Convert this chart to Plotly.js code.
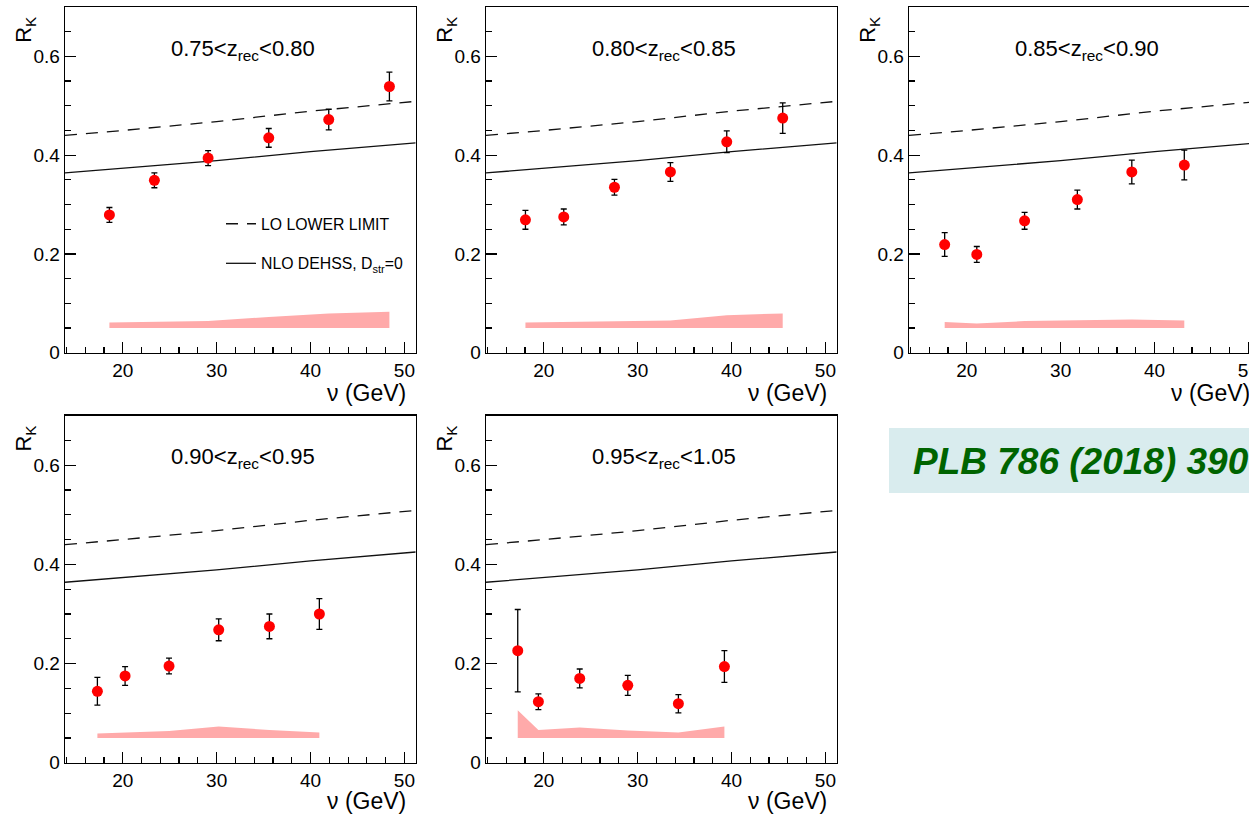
<!DOCTYPE html>
<html><head><meta charset="utf-8">
<script src="https://cdn.plot.ly/plotly-3.0.1.min.js"></script>
<style>html,body{margin:0;padding:0;overflow:hidden;background:#fff;} #chart{width:1262px;height:814px;}</style>
</head><body><div id="chart"></div>
<script>
// ---------------- data ----------------
const binLabels = ['0.75&lt;z<sub>rec</sub>&lt;0.80', '0.80&lt;z<sub>rec</sub>&lt;0.85',
  '0.85&lt;z<sub>rec</sub>&lt;0.90', '0.90&lt;z<sub>rec</sub>&lt;0.95', '0.95&lt;z<sub>rec</sub>&lt;1.05'];

const nuBin1 = [18.58, 23.37, 29.09, 35.55, 41.94, 48.40];
const rkBin1 = [0.279, 0.349, 0.394, 0.435, 0.472, 0.539];
const errBin1 = [0.015, 0.015, 0.015, 0.019, 0.021, 0.029];
const sysTopBin1 = [0.061, 0.0625, 0.064, 0.0725, 0.0795, 0.083];

const nuBin2 = [18.05, 22.13, 27.53, 33.49, 39.49, 45.45];
const rkBin2 = [0.269, 0.275, 0.335, 0.366, 0.427, 0.475];
const errBin2 = [0.019, 0.016, 0.016, 0.019, 0.022, 0.031];
const sysTopBin2 = [0.061, 0.062, 0.063, 0.065, 0.076, 0.0795];

const nuBin3 = [17.65, 21.07, 26.16, 31.78, 37.58, 43.17];
const rkBin3 = [0.219, 0.199, 0.267, 0.310, 0.366, 0.380];
const errBin3 = [0.024, 0.016, 0.017, 0.019, 0.024, 0.030];
const sysTopBin3 = [0.062, 0.059, 0.064, 0.066, 0.067, 0.065];

const nuBin4 = [17.30, 20.25, 24.93, 30.22, 35.62, 40.94];
const rkBin4 = [0.144, 0.175, 0.195, 0.268, 0.275, 0.300];
const errBin4 = [0.028, 0.019, 0.016, 0.022, 0.025, 0.031];
const sysTopBin4 = [0.059, 0.061, 0.064, 0.073, 0.066, 0.061];

const nuBin5 = [17.23, 19.43, 23.83, 28.95, 34.34, 39.24];
const rkBin5 = [0.226, 0.123, 0.170, 0.156, 0.119, 0.194];
const errBin5 = [0.083, 0.016, 0.019, 0.020, 0.0185, 0.032];
const sysTopBin5 = [0.106, 0.066, 0.071, 0.065, 0.061, 0.073];

const bandBase = 0.05;

const nuTheory = [13.85, 20, 30, 40, 51.2];
const loLowerLimit = [0.440, 0.450, 0.468, 0.489, 0.509];
const nloDehss = [0.364, 0.373, 0.389, 0.407, 0.425];

const reference = 'PLB 786 (2018) 390';

// ---------------- layout geometry ----------------
const W = 1262, H = 814;
const FONT = 'Liberation Sans, Arial, Helvetica, sans-serif';
const boxes = [
  {x0: 65,  x1: 415.7,  y0: 7,     y1: 352.7},
  {x0: 486, x1: 836.7,  y0: 7,     y1: 352.7},
  {x0: 909, x1: 1259.7, y0: 7,     y1: 352.7},
  {x0: 65,  x1: 415.7,  y0: 415.7, y1: 762.7},
  {x0: 486, x1: 836.7,  y0: 415.7, y1: 762.7}
];
const panels = [
  {nu: nuBin1, rk: rkBin1, err: errBin1, sys: sysTopBin1},
  {nu: nuBin2, rk: rkBin2, err: errBin2, sys: sysTopBin2},
  {nu: nuBin3, rk: rkBin3, err: errBin3, sys: sysTopBin3},
  {nu: nuBin4, rk: rkBin4, err: errBin4, sys: sysTopBin4},
  {nu: nuBin5, rk: rkBin5, err: errBin5, sys: sysTopBin5}
];

const traces = [];
const layout = {
  width: W, height: H,
  margin: {l: 0, r: 0, t: 0, b: 0},
  paper_bgcolor: '#fff', plot_bgcolor: '#fff',
  font: {family: FONT, color: '#000'},
  showlegend: true,
  legend: {
    x: 221 / W, y: 1 - 207 / H, xanchor: 'left', yanchor: 'top',
    bgcolor: 'rgba(0,0,0,0)', borderwidth: 0,
    font: {family: FONT, size: 15.8, color: '#000'},
    tracegroupgap: 16
  },
  annotations: [],
  shapes: []
};

panels.forEach((p, i) => {
  const xa = 'x' + (i ? i + 1 : ''), ya = 'y' + (i ? i + 1 : '');
  const xk = 'xaxis' + (i ? i + 1 : ''), yk = 'yaxis' + (i ? i + 1 : '');
  const b = boxes[i];
  layout[xk] = {
    domain: [b.x0 / W, b.x1 / W], anchor: ya, range: [13.85, 51.2],
    tick0: 0, dtick: 10, ticks: 'inside', ticklen: 11, tickwidth: 1.2, tickcolor: '#000',
    minor: {dtick: 2, ticks: 'inside', ticklen: 6, tickwidth: 1.2, tickcolor: '#000'},
    showline: true, mirror: true, linecolor: '#000', linewidth: 1.3,
    showgrid: false, zeroline: false,
    tickfont: {family: FONT, size: 19, color: '#000'}
  };
  layout[yk] = {
    domain: [1 - b.y1 / H, 1 - b.y0 / H], anchor: xa, range: [0, 0.7],
    tick0: 0, dtick: 0.2, ticks: 'inside', ticklen: 11, tickwidth: 1.2, tickcolor: '#000',
    minor: {dtick: 0.05, ticks: 'inside', ticklen: 6, tickwidth: 1.2, tickcolor: '#000'},
    showline: true, mirror: true, linecolor: '#000', linewidth: 1.3,
    showgrid: false, zeroline: false,
    tickfont: {family: FONT, size: 19, color: '#000'}
  };

  // systematic band
  traces.push({
    x: p.nu.concat(p.nu.slice().reverse()),
    y: p.sys.concat(p.nu.map(() => bandBase)),
    xaxis: xa, yaxis: ya, type: 'scatter', mode: 'lines',
    fill: 'toself', fillcolor: '#ffaaaa', line: {width: 0, color: '#ffaaaa'},
    showlegend: false, hoverinfo: 'skip'
  });
  // theory curves
  traces.push({
    x: nuTheory, y: loLowerLimit, xaxis: xa, yaxis: ya, type: 'scatter', mode: 'lines',
    line: {color: '#111', width: 1.3, dash: '12px,9px'},
    name: 'LO LOWER LIMIT', legendgroup: 'lo', showlegend: i === 0
  });
  traces.push({
    x: nuTheory, y: nloDehss, xaxis: xa, yaxis: ya, type: 'scatter', mode: 'lines',
    line: {color: '#111', width: 1.3},
    name: 'NLO DEHSS, D<sub>str</sub>=0', legendgroup: 'nlo', showlegend: i === 0
  });
  // data points
  traces.push({
    x: p.nu, y: p.rk, xaxis: xa, yaxis: ya, type: 'scatter', mode: 'markers',
    marker: {color: '#ff0000', size: 11},
    error_y: {type: 'data', array: p.err, visible: true, color: '#000', thickness: 1.3, width: 3},
    showlegend: false
  });

  // bin label
  layout.annotations.push({
    text: binLabels[i], xref: xa + ' domain', yref: ya + ' domain',
    x: 0.508, y: 0.877, xanchor: 'center', yanchor: 'middle', showarrow: false,
    font: {family: FONT, size: 22, color: '#000'}
  });
  // y title
  layout.annotations.push({
    text: 'R<sub>K</sub>', xref: xa + ' domain', yref: ya + ' domain',
    x: -0.114, y: 0.934, xanchor: 'center', yanchor: 'middle', textangle: -90, showarrow: false,
    font: {family: FONT, size: 22, color: '#000'}
  });
  // x title
  layout.annotations.push({
    text: 'ν (GeV)', xref: xa + ' domain', yref: ya + ' domain',
    x: 0.977, y: i < 3 ? -0.117 : -0.111, xanchor: 'right', yanchor: 'middle', showarrow: false,
    font: {family: FONT, size: 23, color: '#000'}
  });
});

// publication reference box
layout.shapes.push({
  type: 'rect', xref: 'paper', yref: 'paper',
  x0: 889 / W, x1: 1, y0: 1 - 493 / H, y1: 1 - 428 / H,
  fillcolor: '#d9ecee', line: {width: 0}, layer: 'below'
});
layout.annotations.push({
  text: '<b><i>' + reference + '</i></b>', xref: 'paper', yref: 'paper',
  x: 911 / W, y: 1 - 461 / H, xanchor: 'left', yanchor: 'middle', showarrow: false,
  font: {family: FONT, size: 37, color: '#006400'}
});

Plotly.newPlot('chart', traces, layout, {staticPlot: true, displayModeBar: false});
</script>
</body></html>
